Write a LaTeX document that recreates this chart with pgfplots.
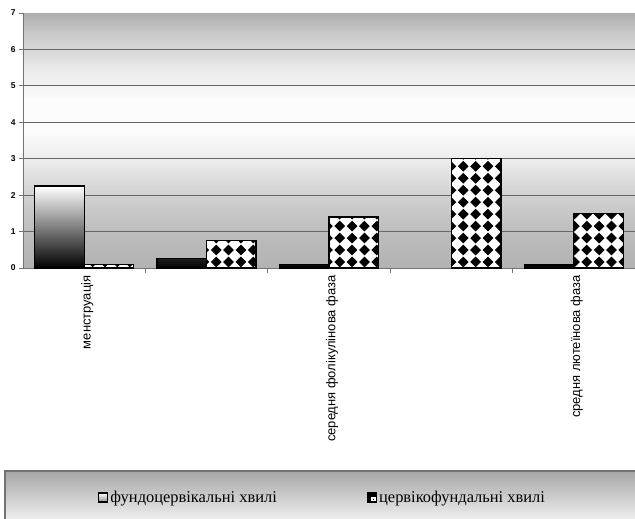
\documentclass[border=0pt]{standalone}
\usepackage{fontspec}
\setmainfont{Liberation Serif}
\newfontfamily\arialfont{Liberation Sans}
\usepackage{pgfplots}
\pgfplotsset{compat=1.18}
\usetikzlibrary{patterns}

% black diamonds on a square grid for the second series
\pgfdeclarepatternformonly{diamondgrid}{\pgfqpoint{-1pt}{-1pt}}{\pgfqpoint{13.5pt}{13pt}}{\pgfqpoint{12.4pt}{12pt}}{%
  \pgfpathmoveto{\pgfqpoint{6.2pt}{0.6pt}}%
  \pgfpathlineto{\pgfqpoint{11.6pt}{6pt}}%
  \pgfpathlineto{\pgfqpoint{6.2pt}{11.4pt}}%
  \pgfpathlineto{\pgfqpoint{0.8pt}{6pt}}%
  \pgfpathclose
  \pgfusepath{fill}}

% plot area: grey at top and bottom, white band in the middle
\pgfdeclareverticalshading{plotbg}{100bp}{%
  rgb(0bp)=(.70,.70,.70);
  rgb(25bp)=(.70,.70,.70);
  rgb(32.14bp)=(.74,.74,.74);
  rgb(39.29bp)=(.82,.82,.82);
  rgb(46.43bp)=(.93,.93,.93);
  rgb(52.14bp)=(.99,.99,.99);
  rgb(57.86bp)=(.99,.99,.99);
  rgb(64.29bp)=(.91,.91,.91);
  rgb(71.43bp)=(.78,.78,.78);
  rgb(75bp)=(.68,.68,.68);
  rgb(100bp)=(.68,.68,.68)}

\begin{document}
\begin{tikzpicture}
\fill[white] (0bp,0bp) rectangle (635bp,-519bp);
% legend panel
\draw[draw=black!55, line width=1.2bp, top color=black!35, bottom color=white]
  (5bp,-471bp) rectangle (645bp,-530bp);
\begin{axis}[
  at={(23bp,-268bp)}, anchor=south west,
  scale only axis, width=612bp, height=255bp,
  xmin=-0.5, xmax=4.5, ymin=0, ymax=7,
  ybar=0pt, bar width=49.5bp,
  axis background/.style={shading=plotbg},
  axis x line*=bottom, axis y line*=left,
  axis line style={draw=black!55, line width=0.8bp},
  ytick={0,...,6}, extra y ticks={7}, extra y tick style={grid=none},
  ymajorgrids, grid style={draw=black!60, line width=0.9bp},
  xtick={0,...,4},
  xticklabels={менструація,,середня фолікулінова фаза,,средня лютеїнова фаза},
  x tick label style={rotate=90, anchor=east, yshift=-3bp, font=\arialfont\fontsize{13}{15}\selectfont},
  major x tick style={draw=none},
  minor xtick={0.5,1.5,2.5,3.5},
  minor tick length=5bp, major tick length=4bp,
  tick align=outside,
  tick style={draw=black!55, line width=0.8bp},
  y tick label style={font=\arialfont\bfseries\fontsize{8.5}{9}\selectfont},
  /pgf/number format/assume math mode=true,
  legend columns=2,
  legend style={at={(0.4895,-0.9)}, anchor=center, draw=none, fill=none,
    font=\rmfamily\fontsize{16.5}{18}\selectfont,
    /tikz/every even column/.append style={column sep=88bp}},
  legend cell align=left,
]
\addplot[draw=black, line width=1.2bp, top color=white, middle color=black!30, bottom color=black,
  legend image code/.code={
    \draw[black, line width=1.3bp, top color=white, bottom color=black!45] (0bp,-4.5bp) rectangle (9bp,4.5bp);}]
  coordinates {(0,2.25) (1,0.25) (2,0.1) (4,0.08)};
\addplot[draw=black, line width=1.3bp, fill=white, postaction={pattern=diamondgrid},
  legend image code/.code={
    \fill[black] (0bp,-4.5bp) rectangle (9bp,4.5bp);
    \fill[white] (4.5bp,-3bp) rectangle (7.5bp,0bp);}]
  coordinates {(0,0.1) (1,0.75) (2,1.4) (3,3.0) (4,1.5)};
\legend{фундоцервікальні хвилі, цервікофундальні хвилі}
\end{axis}
\pgfresetboundingbox
\path (0bp,0bp) rectangle (635bp,-519bp);
\end{tikzpicture}
\end{document}
